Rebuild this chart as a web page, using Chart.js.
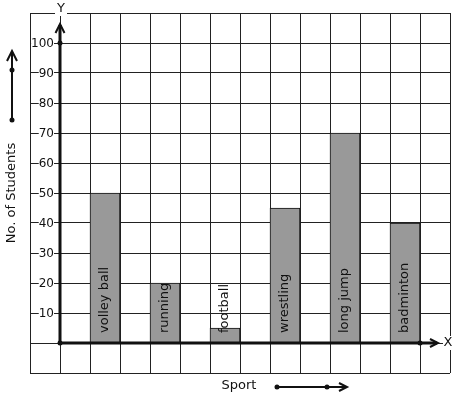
<!DOCTYPE html>
<html lang="en">
<head>
<meta charset="UTF-8">
<title>Students by Sport</title>
<script src="https://cdn.jsdelivr.net/npm/chart.js"></script>
<style>
    body { margin: 0; background: #fff; }
    #wrap { width: 457px; height: 399px; }
</style>
</head>
<body>
<div id="wrap"><canvas id="sportChart" width="457" height="399"></canvas></div>
<script>
// data
const sports = ['volley ball', 'running', 'football', 'wrestling', 'long jump', 'badminton'];
const barCenters = [1.5, 3.5, 5.5, 7.5, 9.5, 11.5];   // grid units from the origin
const students = [50, 20, 5, 45, 70, 40];
const yTicks = [10, 20, 30, 40, 50, 60, 70, 80, 90, 100];
const xTitle = 'Sport';
const yTitle = 'No. of Students';

const FONT = '"DejaVu Sans", sans-serif';
const INK = '#111';

function chevron(ctx, x, y, dir, size) {
    // open arrow head, dir = 'up' or 'right'
    ctx.beginPath();
    if (dir === 'up') {
        ctx.moveTo(x - size * 0.5, y + size);
        ctx.lineTo(x, y);
        ctx.lineTo(x + size * 0.5, y + size);
    } else {
        ctx.moveTo(x - size, y - size * 0.5);
        ctx.lineTo(x, y);
        ctx.lineTo(x - size, y + size * 0.5);
    }
    ctx.stroke();
}

function dot(ctx, x, y) {
    ctx.beginPath();
    ctx.arc(x, y, 2.5, 0, Math.PI * 2);
    ctx.fill();
}

const decorations = {
    id: 'decorations',
    afterDatasetsDraw(chart) {
        const ctx = chart.ctx;
        const xs = chart.scales.x, ys = chart.scales.y;
        const ox = xs.getPixelForValue(0), oy = ys.getPixelForValue(0);
        ctx.save();
        ctx.fillStyle = INK;
        ctx.strokeStyle = INK;

        // y tick labels with white backing
        ctx.font = '12px ' + FONT;
        ctx.textAlign = 'right';
        ctx.textBaseline = 'middle';
        yTicks.forEach(v => {
            const py = ys.getPixelForValue(v);
            const w = ctx.measureText(String(v)).width;
            ctx.fillStyle = '#fff';
            ctx.fillRect(54 - w, py - 2, w, 4);
            ctx.fillStyle = INK;
            ctx.fillText(String(v), 54, py + 1);
        });

        // bar labels
        ctx.font = '13px ' + FONT;
        const meta = chart.getDatasetMeta(0);
        meta.data.forEach((bar, i) => {
            ctx.save();
            ctx.translate(bar.x, oy - 10);
            ctx.rotate(-Math.PI / 2);
            ctx.textAlign = 'left';
            ctx.textBaseline = 'middle';
            ctx.fillText(sports[i], 0, 0);
            ctx.restore();
        });

        // axes
        ctx.lineWidth = 3;
        ctx.beginPath();
        ctx.moveTo(ox, oy);
        ctx.lineTo(ox, 25);
        ctx.moveTo(ox, oy);
        ctx.lineTo(437, oy);
        ctx.stroke();
        ctx.lineWidth = 2;
        chevron(ctx, ox, 24, 'up', 9);
        chevron(ctx, 438, oy, 'right', 8);
        dot(ctx, ox, oy);
        dot(ctx, ox, ys.getPixelForValue(100));
        dot(ctx, xs.getPixelForValue(12), oy);

        // axis letters
        ctx.font = '13px ' + FONT;
        ctx.textAlign = 'center';
        ctx.textBaseline = 'middle';
        ctx.fillStyle = '#fff';
        ctx.fillRect(55, 3, 12, 13);
        ctx.fillRect(443, 336, 11, 14);
        ctx.fillStyle = INK;
        ctx.fillText('Y', 61, 9);
        ctx.fillText('X', 448, 343);

        // axis titles
        ctx.fillText(xTitle, 239, 386);
        ctx.save();
        ctx.translate(12, 193);
        ctx.rotate(-Math.PI / 2);
        ctx.fillText(yTitle, 0, 0);
        ctx.restore();

        // direction arrows beside the titles
        ctx.lineWidth = 2;
        ctx.beginPath();
        ctx.moveTo(12, 120);
        ctx.lineTo(12, 52);
        ctx.moveTo(277, 387);
        ctx.lineTo(346, 387);
        ctx.stroke();
        chevron(ctx, 12, 51, 'up', 10);
        chevron(ctx, 347, 387, 'right', 8);
        dot(ctx, 12, 120);
        dot(ctx, 12, 70);
        dot(ctx, 277, 387);
        dot(ctx, 327, 387);

        ctx.restore();
    }
};

new Chart(document.getElementById('sportChart'), {
    type: 'bar',
    data: {
        datasets: [{
            label: yTitle,
            data: barCenters.map((x, i) => ({ x: x, y: students[i] })),
            backgroundColor: '#999999',
            borderColor: '#111',
            borderWidth: 1,
            barThickness: 30
        }]
    },
    options: {
        responsive: false,
        animation: false,
        layout: { padding: { left: 30, top: 13, right: 7, bottom: 26 } },
        plugins: { legend: { display: false }, tooltip: { enabled: false } },
        scales: {
            x: {
                type: 'linear',
                offset: false,
                min: -1, max: 13,
                ticks: { display: false, stepSize: 1 },
                grid: { color: '#222', lineWidth: 1, drawTicks: false, offset: false },
                border: { display: false },
                afterFit(s) { s.height = 0; }
            },
            y: {
                min: -10, max: 110,
                ticks: { display: false, stepSize: 10 },
                grid: { color: '#222', lineWidth: 1, drawTicks: false },
                border: { display: false },
                afterFit(s) { s.width = 0; }
            }
        }
    },
    plugins: [decorations]
});
</script>
</body>
</html>
